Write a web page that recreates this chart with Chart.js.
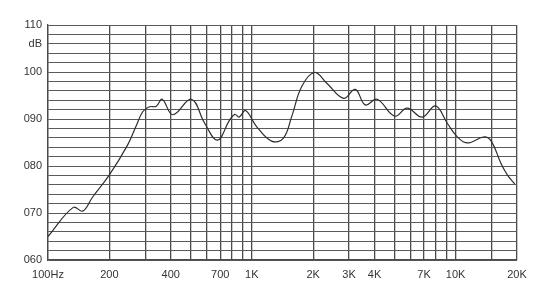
<!DOCTYPE html>
<html>
<head>
<meta charset="utf-8">
<script src="https://cdn.jsdelivr.net/npm/chart.js@4/dist/chart.umd.min.js"></script>
<style>
  html, body { margin: 0; padding: 0; background: #fff; }
  #wrap { width: 550px; height: 298px; }
</style>
</head>
<body>
<div id="wrap"><canvas id="resp" width="550" height="298"></canvas></div>
<script>
// frequency response
const freqs = [100, 133, 148, 165, 200, 246, 270, 292, 315, 340, 363, 410, 505, 587, 678, 779, 825, 867, 931,
    1055, 1250, 1427, 1569, 1757, 2028, 2333, 2818, 3217, 3603, 4114, 5030, 5781, 6855, 7969, 9100,
    10190, 11430, 13800, 15000, 16670, 18000, 19500];
const levels = [65.0, 71.2, 70.4, 73.3, 78.1, 84.5, 88.4, 91.6, 92.6, 92.7, 94.2, 90.9, 94.2, 89.1, 85.5, 89.8, 91.0, 90.4, 91.8,
    88.4, 85.3, 85.9, 90.5, 96.9, 99.9, 97.6, 94.4, 96.3, 93.0, 94.2, 90.6, 92.3, 90.4, 92.8, 89.1,
    86.2, 84.9, 86.2, 85.2, 80.6, 78.0, 76.2];

// grid lines on the x axis and which of them carry a label
const xGrid = [100, 200, 300, 400, 500, 600, 700, 800, 900, 1000, 2000, 3000, 4000, 5000, 6000, 7000, 8000, 9000, 10000, 15000, 20000];
const xLabels = { 100: '100Hz', 200: '200', 400: '400', 700: '700', 1000: '1K', 2000: '2K', 3000: '3K', 4000: '4K', 7000: '7K', 10000: '10K', 20000: '20K' };
const yLabels = { 60: '060', 70: '070', 80: '080', 90: '090', 100: '100', 106: 'dB', 110: '110' };

const points = freqs.map((f, i) => ({ x: f, y: levels[i] }));

new Chart(document.getElementById('resp'), {
    type: 'line',
    data: {
        datasets: [{
            data: points,
            borderColor: '#2e2e2e',
            borderWidth: 1.2,
            pointRadius: 0,
            fill: false,
            tension: 0.4
        }]
    },
    options: {
        responsive: false,
        animation: false,
        layout: { padding: { top: 25, right: 33, left: 0, bottom: 0 } },
        plugins: { legend: { display: false }, tooltip: { enabled: false } },
        scales: {
            x: {
                type: 'logarithmic',
                min: 100, max: 20000,
                afterBuildTicks: (scale) => { scale.ticks = xGrid.map(v => ({ value: v })); },
                afterFit: (scale) => { scale.height = 38; },
                grid: { color: '#4a4a4a', lineWidth: 1.3, drawTicks: false },
                border: { color: '#4a4a4a', width: 1.3 },
                ticks: {
                    autoSkip: false, maxRotation: 0, padding: 8,
                    color: '#333',
                    font: { family: 'Liberation Sans, Arial, sans-serif', size: 11 },
                    callback: (v) => xLabels[v] || ''
                }
            },
            y: {
                min: 60, max: 110,
                afterBuildTicks: (scale) => {
                    const t = [];
                    for (let v = 60; v <= 110; v += 2) t.push({ value: v });
                    scale.ticks = t;
                },
                afterFit: (scale) => { scale.width = 48; },
                grid: { color: '#5a5a5a', lineWidth: 1, drawTicks: false },
                border: { color: '#4a4a4a', width: 1.3 },
                ticks: {
                    autoSkip: false, padding: 6,
                    color: '#333',
                    font: { family: 'Liberation Sans, Arial, sans-serif', size: 11 },
                    callback: (v) => yLabels[v] || ''
                }
            }
        }
    }
});
</script>
</body>
</html>
